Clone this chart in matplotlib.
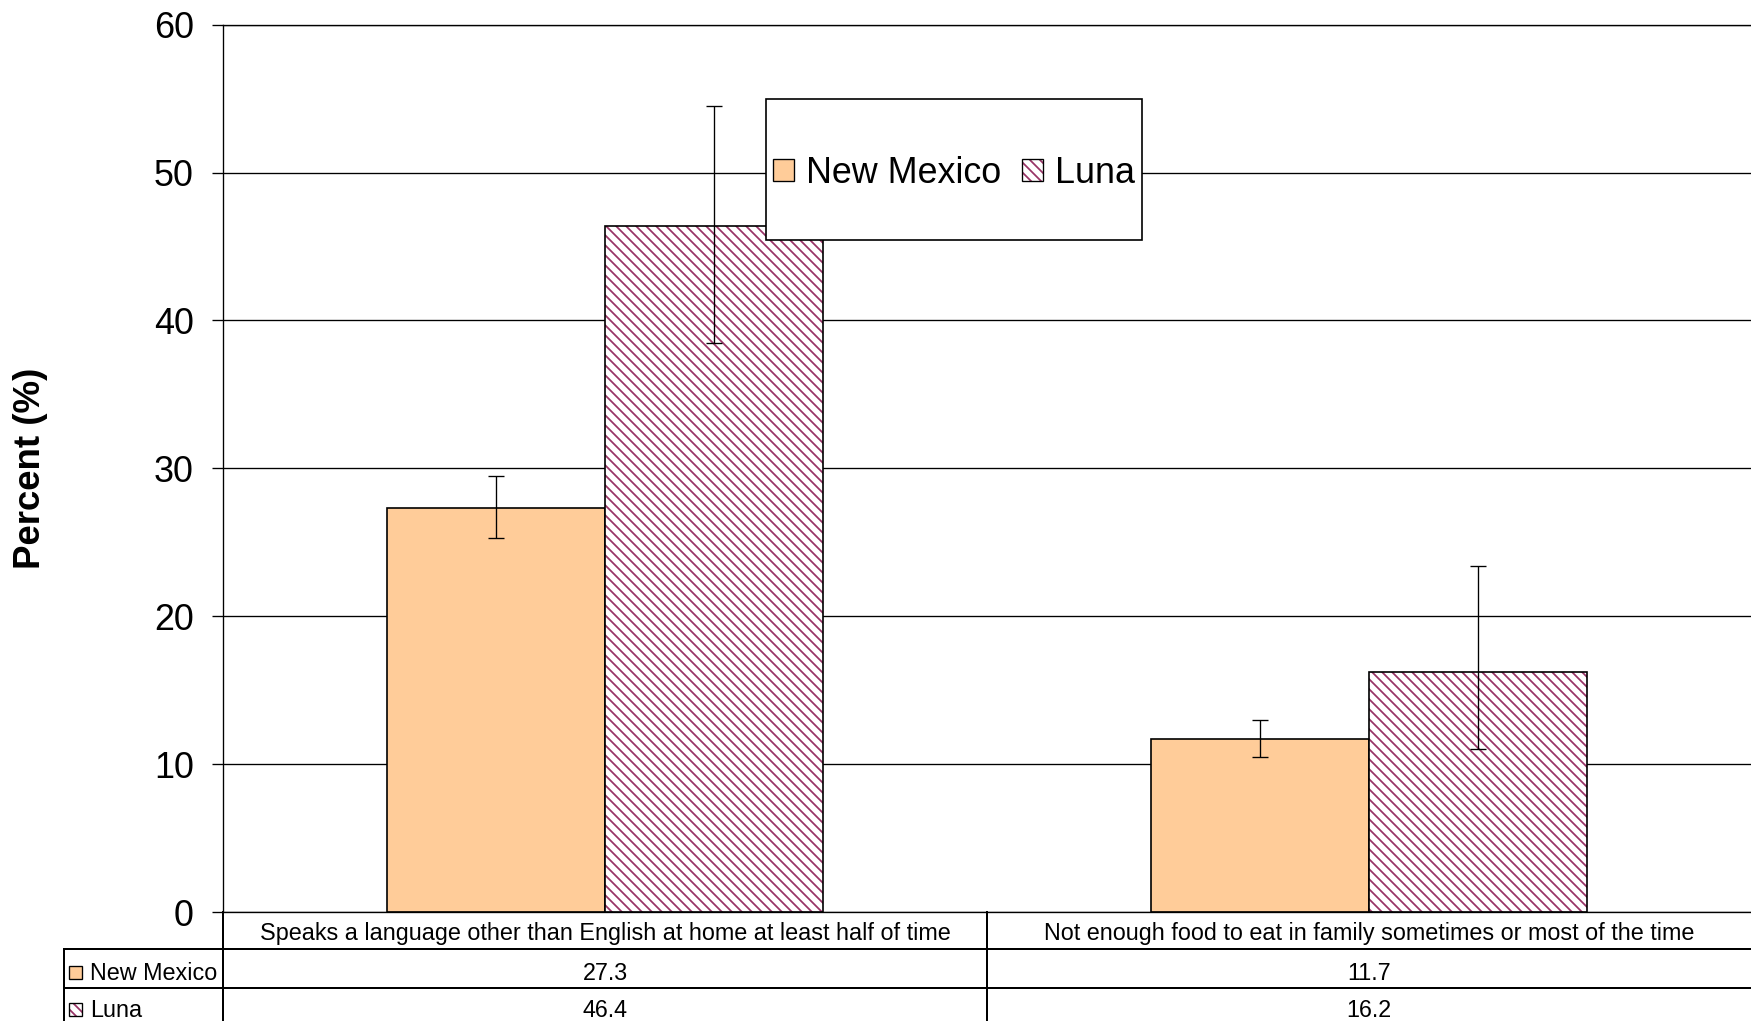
import matplotlib
matplotlib.use("Agg")
import matplotlib.pyplot as plt
import matplotlib.transforms as mtransforms
from matplotlib.patches import Patch, Rectangle
from matplotlib.lines import Line2D
from matplotlib.legend_handler import HandlerTuple
import numpy as np

plt.rcParams['font.family'] = ['Liberation Sans', 'DejaVu Sans']
plt.rcParams['hatch.linewidth'] = 1.05

categories = ["Speaks a language other than English at home at least half of time",
              "Not enough food to eat in family sometimes or most of the time"]
series = ["New Mexico", "Luna"]
nm_values = [27.3, 11.7]
luna_values = [46.4, 16.2]
nm_err_low = [2.0, 1.2]
nm_err_high = [2.2, 1.3]
luna_err_low = [7.9, 5.2]
luna_err_high = [8.1, 7.2]
yticks = [0, 10, 20, 30, 40, 50, 60]

NM_COLOR = '#FFCC99'
LUNA_COLOR = '#993366'
HATCH = '\\\\\\\\'

W, H = 1751, 1021
DPI = 120
fig = plt.figure(figsize=(W / DPI, H / DPI), dpi=DPI)


def fx(px):
    return px / W


def fy(py):
    return 1 - py / H


ax = fig.add_axes([fx(223), fy(912), 1 - fx(223), (912 - 24.6) / H])

x = np.arange(len(categories))
w = 0.285
ax.bar(x - w / 2, nm_values, w, color=NM_COLOR, edgecolor='black', linewidth=1.0, zorder=2)
ax.bar(x + w / 2, luna_values, w, color='white', edgecolor=LUNA_COLOR, hatch=HATCH,
       linewidth=0, zorder=2)
ax.bar(x + w / 2, luna_values, w, fill=False, edgecolor='black', linewidth=1.0, zorder=2.1)

ax.errorbar(x - w / 2, nm_values, yerr=[nm_err_low, nm_err_high], fmt='none',
            ecolor='black', elinewidth=0.8, capsize=4.7, capthick=0.8, zorder=3)
ax.errorbar(x + w / 2, luna_values, yerr=[luna_err_low, luna_err_high], fmt='none',
            ecolor='black', elinewidth=0.8, capsize=4.7, capthick=0.8, zorder=3)

ax.set_xlim(-0.5, 1.5)
ax.set_ylim(0, 60)
ax.set_yticks(yticks)
ax.set_xticks([])
ax.yaxis.grid(True, color='black', linewidth=0.8)
ax.set_axisbelow(True)
ax.tick_params(axis='y', labelsize=21.5, length=6.6, width=0.8, pad=11)
ax.spines['right'].set_visible(False)
for s in ['left', 'bottom', 'top']:
    ax.spines[s].set_color('black')
    ax.spines[s].set_linewidth(0.8)

fig.text(fx(31), fy(468), 'Percent (%)', rotation=90, ha='center', va='center',
         fontsize=22, fontweight='bold')

# legend with a separate box
box = Rectangle((fx(766), fy(240)), (1142 - 766) / W, (240 - 99) / H,
                transform=fig.transFigure, facecolor='white', edgecolor='black',
                linewidth=1.0, zorder=4)
fig.add_artist(box)
nm_handle = Patch(facecolor=NM_COLOR, edgecolor='black', linewidth=0.8)
luna_handle = (Patch(facecolor='white', edgecolor=LUNA_COLOR, hatch=HATCH, linewidth=0),
               Patch(fill=False, edgecolor='black', linewidth=0.8))
leg = fig.legend([nm_handle, luna_handle], series, loc='center',
                 bbox_to_anchor=(fx(954), fy(173.5)), frameon=False, ncol=2,
                 fontsize=21.5, handlelength=0.58, handleheight=0.58,
                 handletextpad=0.33, columnspacing=0.6, borderpad=0,
                 handler_map={tuple: HandlerTuple()})
leg.set_zorder(5)

# data table under the chart
trans = mtransforms.blended_transform_factory(ax.transData, fig.transFigure)
lw = 1.2
fig.add_artist(Line2D([fx(64), 1], [fy(949), fy(949)], color='black', lw=lw))
fig.add_artist(Line2D([fx(64), 1], [fy(988), fy(988)], color='black', lw=lw))
fig.add_artist(Line2D([fx(64), fx(64)], [fy(949), 0], color='black', lw=lw))
fig.add_artist(Line2D([fx(223), fx(223)], [fy(912), 0], color='black', lw=lw))
ax.add_artist(Line2D([0.5, 0.5], [fy(912), 0], color='black', lw=lw,
                     transform=trans, clip_on=False))

tfs = 14
for i, cat in enumerate(categories):
    ax.text(i, fy(933.5), cat, transform=trans, ha='center', va='center',
            fontsize=tfs, clip_on=False)
    ax.text(i, fy(973), f"{nm_values[i]:.1f}", transform=trans, ha='center',
            va='center', fontsize=tfs, clip_on=False)
    ax.text(i, fy(1010.5), f"{luna_values[i]:.1f}", transform=trans, ha='center',
            va='center', fontsize=tfs, clip_on=False)

fig.text(fx(90), fy(973), series[0], ha='left', va='center', fontsize=tfs)
fig.text(fx(90), fy(1010.5), series[1], ha='left', va='center', fontsize=tfs)
fig.add_artist(Rectangle((fx(69), fy(979)), 13 / W, 13 / H, transform=fig.transFigure,
                         facecolor=NM_COLOR, edgecolor='black', linewidth=0.8))
fig.add_artist(Rectangle((fx(69), fy(1016)), 13 / W, 13 / H, transform=fig.transFigure,
                         facecolor='white', edgecolor=LUNA_COLOR, hatch=HATCH, linewidth=0))
fig.add_artist(Rectangle((fx(69), fy(1016)), 13 / W, 13 / H, transform=fig.transFigure,
                         fill=False, edgecolor='black', linewidth=0.8))

fig.savefig('out.png', dpi=DPI)
